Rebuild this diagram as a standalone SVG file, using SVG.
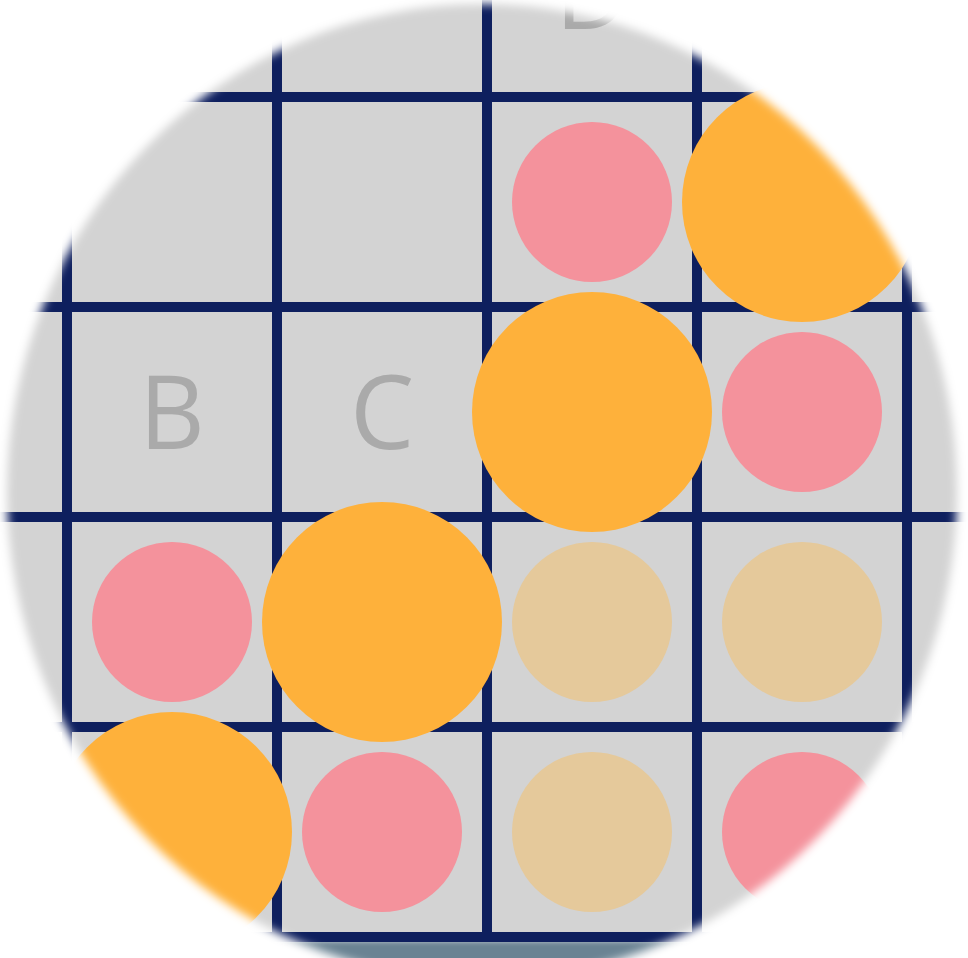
<svg xmlns="http://www.w3.org/2000/svg" width="968" height="958" viewBox="0 0 968 958">
<style>
.board{fill:#d3d3d3}
.grid line{stroke:#0e1f5e;stroke-width:10}
.pink{fill:#f4929c}
.orange{fill:#feb13b}
.tan{fill:#e5c99b}
.lbl{font-family:"Open Sans","Noto Sans",sans-serif;font-size:102px;fill:#aaaaaa;text-anchor:middle}
</style>
<defs>
<filter id="soft" x="-10%" y="-10%" width="120%" height="120%"><feGaussianBlur stdDeviation="5"/></filter>
<filter id="shblur" x="-5%" y="-50%" width="110%" height="200%"><feGaussianBlur stdDeviation="3"/></filter>
<mask id="lens" maskUnits="userSpaceOnUse" x="0" y="0" width="968" height="958">
<ellipse cx="482" cy="492" rx="475" ry="488" fill="#fff" filter="url(#soft)"/>
</mask>
</defs>
<rect width="968" height="958" fill="#fff"/>
<g id="lens-view" mask="url(#lens)">
<rect id="shadow" x="-20" y="940" width="1010" height="60" fill="#6b8393" filter="url(#shblur)"/>
<rect id="board" class="board" x="-20" y="-20" width="1010" height="962"/>
<g class="grid" id="grid">
<line x1="67" y1="-20" x2="67" y2="942"/>
<line x1="277" y1="-20" x2="277" y2="942"/>
<line x1="487" y1="-20" x2="487" y2="942"/>
<line x1="697" y1="-20" x2="697" y2="942"/>
<line x1="907" y1="-20" x2="907" y2="942"/>
<line x1="-20" y1="97" x2="990" y2="97"/>
<line x1="-20" y1="307" x2="990" y2="307"/>
<line x1="-20" y1="517" x2="990" y2="517"/>
<line x1="-20" y1="727" x2="990" y2="727"/>
<line x1="-20" y1="937" x2="990" y2="937"/>
</g>
<g id="cell-D0"><text class="lbl" x="592" y="29">D</text></g>
<g id="cell-C1"><circle class="pink" cx="592" cy="202" r="80"/></g>
<g id="cell-D1"><circle class="orange" cx="802" cy="202" r="120"/></g>
<g id="cell-A2"><text class="lbl" x="172" y="449">B</text></g>
<g id="cell-B2"><text class="lbl" x="382" y="449">C</text></g>
<g id="cell-C2"><circle class="orange" cx="592" cy="412" r="120"/></g>
<g id="cell-D2"><circle class="pink" cx="802" cy="412" r="80"/></g>
<g id="cell-A3"><circle class="pink" cx="172" cy="622" r="80"/></g>
<g id="cell-B3"><circle class="orange" cx="382" cy="622" r="120"/></g>
<g id="cell-C3"><circle class="tan" cx="592" cy="622" r="80"/></g>
<g id="cell-D3"><circle class="tan" cx="802" cy="622" r="80"/></g>
<g id="cell-A4"><circle class="orange" cx="172" cy="832" r="120"/></g>
<g id="cell-B4"><circle class="pink" cx="382" cy="832" r="80"/></g>
<g id="cell-C4"><circle class="tan" cx="592" cy="832" r="80"/></g>
<g id="cell-D4"><circle class="pink" cx="802" cy="832" r="80"/></g>
</g>
</svg>
